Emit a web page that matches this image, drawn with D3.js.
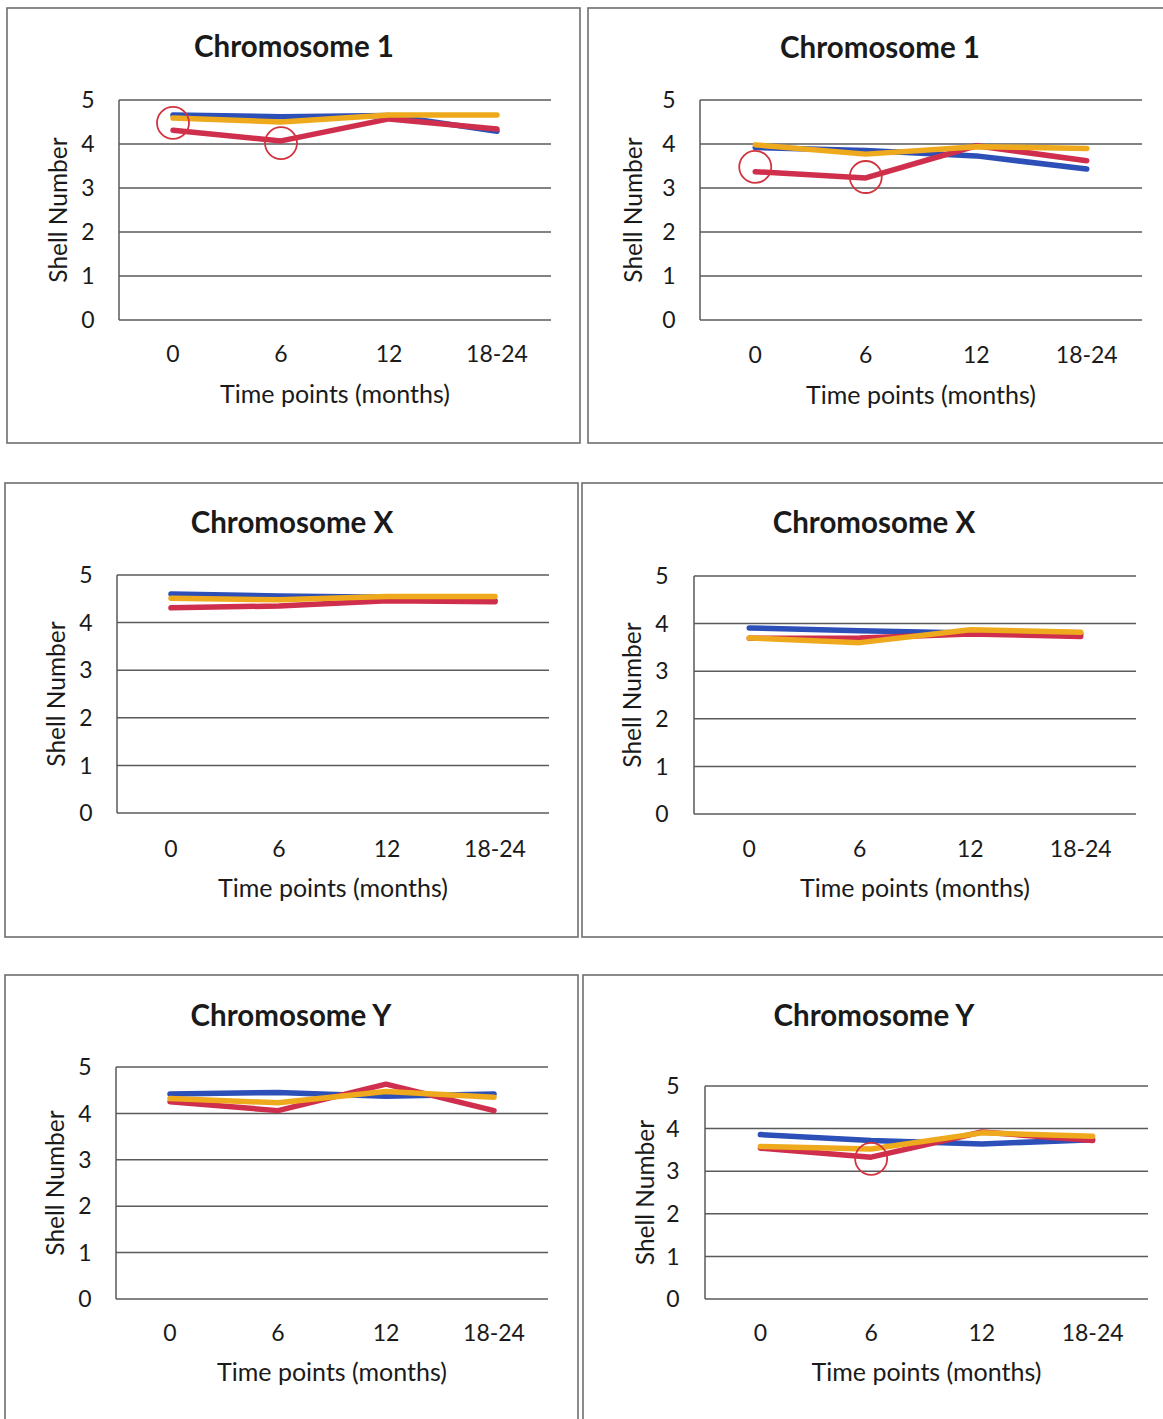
<!DOCTYPE html>
<html>
<head>
<meta charset="utf-8">
<script src="https://cdn.jsdelivr.net/npm/d3@7"></script>
<style>
  html, body { margin: 0; padding: 0; background: #ffffff; }
  svg { display: block; }
  text { font-family: Lato, "Open Sans", sans-serif; fill: #1a1a1a; }
</style>
</head>
<body>
<svg id="chart" width="1163" height="1419"></svg>
<script>
// Time points shared by every panel
const timePoints = ["0", "6", "12", "18-24"];
const yTicks = [0, 1, 2, 3, 4, 5];
const panelTitles = ["Chromosome 1", "Chromosome 1", "Chromosome X", "Chromosome X", "Chromosome Y", "Chromosome Y"];
const xAxisTitle = "Time points (months)";
const yAxisTitle = "Shell Number";

// Mean shell number per time point, one array per series and panel
const blueSeries = [
  [4.66, 4.62, 4.65, 4.29],
  [3.92, 3.85, 3.73, 3.43],
  [4.60, 4.56, 4.53, 4.46],
  [3.91, 3.85, 3.80, 3.78],
  [4.42, 4.45, 4.37, 4.42],
  [3.86, 3.72, 3.64, 3.74]
];
const redSeries = [
  [4.31, 4.07, 4.57, 4.34],
  [3.37, 3.23, 3.96, 3.62],
  [4.31, 4.35, 4.46, 4.44],
  [3.69, 3.70, 3.78, 3.73],
  [4.25, 4.06, 4.63, 4.06],
  [3.54, 3.33, 3.92, 3.72]
];
const yellowSeries = [
  [4.59, 4.50, 4.66, 4.66],
  [3.98, 3.77, 3.94, 3.90],
  [4.51, 4.48, 4.55, 4.55],
  [3.70, 3.60, 3.87, 3.82],
  [4.32, 4.23, 4.47, 4.35],
  [3.58, 3.52, 3.90, 3.82]
];
// Highlighted points (time point, value) in each panel
const highlights = [
  [["0", 4.48], ["6", 4.02]],
  [["0", 3.48], ["6", 3.25]],
  [],
  [],
  [],
  [["6", 3.29]]
];

const seriesColors = ["#2c4fb8", "#cf2f4c", "#eeaa1c"];

// Panel layout: frame box, plot box and text anchors
const layout = [
  { frame: [7, 8, 580, 443],   plot: [119, 100, 551, 320], titleX: 294, titleY: 57,   yTitleX: 58,  tickX: 88,  xTickY: 362,  xTitleY: 403 },
  { frame: [588, 8, 1175, 443], plot: [700, 100, 1142, 320], titleX: 880, titleY: 58, yTitleX: 633, tickX: 669, xTickY: 363,  xTitleY: 404 },
  { frame: [5, 483, 578, 937],  plot: [117, 575, 549, 813], titleX: 292, titleY: 533,  yTitleX: 56,  tickX: 86,  xTickY: 857,  xTitleY: 897 },
  { frame: [582, 483, 1175, 937], plot: [694, 576, 1136, 814], titleX: 874, titleY: 533, yTitleX: 632, tickX: 662, xTickY: 857, xTitleY: 897 },
  { frame: [5, 975, 578, 1430], plot: [116, 1067, 548, 1299], titleX: 291, titleY: 1026, yTitleX: 55, tickX: 85, xTickY: 1341, xTitleY: 1381 },
  { frame: [583, 975, 1175, 1430], plot: [705, 1086, 1148, 1299], titleX: 874, titleY: 1026, yTitleX: 645, tickX: 673, xTickY: 1341, xTitleY: 1381 }
];

const svg = d3.select("#chart");

layout.forEach((L, i) => {
  const g = svg.append("g");
  const [fx0, fy0, fx1, fy1] = L.frame;
  const [px0, py0, px1, py1] = L.plot;

  // panel frame
  g.append("rect")
    .attr("x", fx0).attr("y", fy0)
    .attr("width", fx1 - fx0).attr("height", fy1 - fy0)
    .attr("fill", "#ffffff")
    .attr("stroke", "#6e6e6e").attr("stroke-width", 1.6);

  const x = d3.scaleBand().domain(timePoints).range([px0, px1]);
  const y = d3.scaleLinear().domain([0, 5]).range([py1, py0]);
  const cx = t => x(t) + x.bandwidth() / 2;

  // horizontal gridlines
  g.append("g").selectAll("line").data(yTicks).join("line")
    .attr("x1", px0).attr("x2", px1)
    .attr("y1", d => y(d)).attr("y2", d => y(d))
    .attr("stroke", "#5a5a5a").attr("stroke-width", 1.5);

  // vertical axis line
  g.append("line")
    .attr("x1", px0).attr("x2", px0).attr("y1", py0).attr("y2", py1)
    .attr("stroke", "#5a5a5a").attr("stroke-width", 1.5);

  // y tick labels
  g.append("g").selectAll("text").data(yTicks).join("text")
    .attr("x", L.tickX).attr("y", d => y(d))
    .attr("dy", "0.36em")
    .attr("text-anchor", "middle")
    .style("font-size", "23px")
    .text(d => d);

  // x tick labels
  g.append("g").selectAll("text").data(timePoints).join("text")
    .attr("x", d => cx(d)).attr("y", L.xTickY)
    .attr("text-anchor", "middle")
    .style("font-size", "23px")
    .text(d => d);

  // axis titles
  g.append("text")
    .attr("x", (px0 + px1) / 2).attr("y", L.xTitleY)
    .attr("text-anchor", "middle")
    .style("font-size", "25px")
    .text(xAxisTitle);

  g.append("text")
    .attr("transform", `translate(${L.yTitleX},${(py0 + py1) / 2}) rotate(-90)`)
    .attr("dy", "0.36em")
    .attr("text-anchor", "middle")
    .style("font-size", "24.5px")
    .text(yAxisTitle);

  // panel title
  g.append("text")
    .attr("x", L.titleX).attr("y", L.titleY)
    .attr("text-anchor", "middle")
    .style("font-size", "29.5px").style("font-weight", "bold")
    .text(panelTitles[i]);

  // series lines
  const line = d3.line().x((d, j) => cx(timePoints[j])).y(d => y(d));
  [blueSeries[i], redSeries[i], yellowSeries[i]].forEach((vals, k) => {
    g.append("path")
      .attr("d", line(vals))
      .attr("fill", "none")
      .attr("stroke", seriesColors[k])
      .attr("stroke-width", 5.5)
      .attr("stroke-linecap", "round")
      .attr("stroke-linejoin", "round");
  });

  // highlight circles
  g.append("g").selectAll("circle").data(highlights[i]).join("circle")
    .attr("cx", d => cx(d[0])).attr("cy", d => y(d[1]))
    .attr("r", 16)
    .attr("fill", "none")
    .attr("stroke", "#d3333f").attr("stroke-width", 1.8);
});
</script>
</body>
</html>
